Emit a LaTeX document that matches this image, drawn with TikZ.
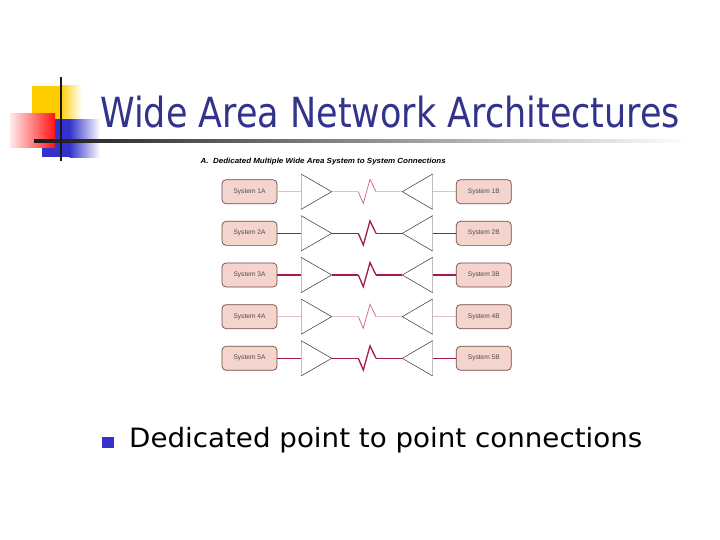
\documentclass[tikz,border=0pt]{standalone}
\usepackage{fontspec}
\setmainfont{DejaVu Sans}
\newfontfamily\arialfont{Liberation Sans}
\usetikzlibrary{calc}
\definecolor{titleblue}{RGB}{51,51,140}
\definecolor{bulletblue}{RGB}{51,51,204}
\definecolor{boxfill}{RGB}{244,212,204}
\definecolor{boxdraw}{RGB}{110,75,70}
\definecolor{lightline}{RGB}{232,188,202}
\definecolor{midline}{RGB}{205,95,135}
\definecolor{darkline}{RGB}{165,25,75}
\definecolor{decoyellow}{RGB}{255,204,0}
\definecolor{decoblue}{RGB}{51,51,204}
\definecolor{decored}{RGB}{255,20,20}
\tikzset{
  sysbox/.style={draw=boxdraw, line width=0.7pt, fill=boxfill, rounded corners=4pt,
    minimum width=55pt, minimum height=24pt, inner sep=0pt,
    font=\arialfont\fontsize{6.6}{7}\selectfont, text=black!70},
  tri/.style={draw=black!75, line width=0.55pt},
  triedge/.style={draw=black!25, line width=0.5pt},
}
\begin{document}
\begin{tikzpicture}[x=1pt,y=-1pt]
\useasboundingbox (0,0) rectangle (720,540);
\fill[white] (0,0) rectangle (720,540);
% decoration
\fill[decoyellow] (32,86) rectangle (60,120);
\shade[left color=decoyellow, right color=white] (59.5,86) rectangle (82,120);
\fill[decoblue] (42,119.5) rectangle (70,157.5);
\shade[left color=decoblue, right color=white] (69.5,119.5) rectangle (100,157.5);
\shade[left color=red!8, right color=decored] (10,113.5) rectangle (55,147.5);
\shade[left color=black!90, right color=white] (34,139.6) rectangle (690,142.4);
\fill[black!90] (59.8,77) rectangle (62.2,161);
% title
\node[anchor=base west, inner sep=0pt, text=titleblue] (title) at (100,127.7)
  {\resizebox{580pt}{\height}{\fontsize{41.5}{48}\selectfont Wide Area Network Architectures}};
% header
\node[anchor=base west, inner sep=0pt] (hdr) at (200.5,163.3)
  {\resizebox{245pt}{\height}{\arialfont\bfseries\itshape\fontsize{7.4}{8}\selectfont A.\ \ Dedicated Multiple Wide Area System to System Connections}};
% rows
\foreach \i/\ln/\zz/\lw in {1/lightline/midline/0.7pt, 2/darkline/darkline/1.3pt, 3/darkline/darkline/1.3pt, 4/lightline/midline/0.7pt, 5/darkline/darkline/1.3pt}{
  \pgfmathsetmacro{\yc}{191.7+41.65*(\i-1)}
  \node[sysbox] (a\i) at (249.5,\yc) {System \i A};
  \node[sysbox] (b\i) at (483.8,\yc) {System \i B};
  \coordinate (lt\i) at (301,\yc-17.7);
  \coordinate (lb\i) at (301,\yc+17.7);
  \coordinate (lm\i) at (301,\yc);
  \coordinate (la\i) at (331.7,\yc);
  \coordinate (rt\i) at (432.7,\yc-17.7);
  \coordinate (rb\i) at (432.7,\yc+17.7);
  \coordinate (rm\i) at (432.7,\yc);
  \coordinate (ra\i) at (402.3,\yc);
  \coordinate (z0\i) at (358.3,\yc);
  \coordinate (z1\i) at (363.3,\yc+11.7);
  \coordinate (z2\i) at (370,\yc-12.4);
  \coordinate (z3\i) at (376,\yc);
  \draw[triedge] (lt\i) -- (lb\i);
  \draw[triedge] (rt\i) -- (rb\i);
  \draw[tri] (lt\i) -- (la\i) -- (lb\i);
  \draw[tri] (rt\i) -- (ra\i) -- (rb\i);
  \draw[\ln, line width=\lw] (a\i.east) -- (lm\i);
  \draw[\ln, line width=\lw] (rm\i) -- (b\i.west);
  \draw[\ln, line width=\lw] (la\i) -- (z0\i);
  \draw[\zz, line width=\lw, line join=miter] (z0\i) -- (z1\i) -- (z2\i) -- (z3\i);
  \draw[\ln, line width=\lw] (z3\i) -- (ra\i);
}
% bullet
\fill[bulletblue] (102,436.8) rectangle (113.5,447.5);
\node[anchor=base west, inner sep=0pt] (btxt) at (129,447.7)
  {\resizebox{513pt}{\height}{\fontsize{26.6}{32}\selectfont Dedicated point to point connections}};
\end{tikzpicture}
\end{document}
